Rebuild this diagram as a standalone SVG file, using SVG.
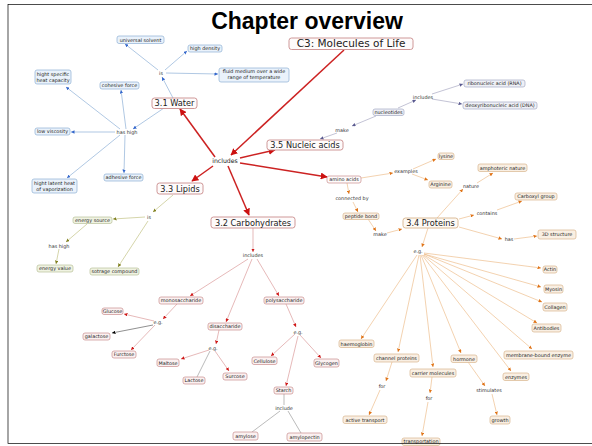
<svg xmlns="http://www.w3.org/2000/svg" width="592" height="446" viewBox="0 0 592 446">
<style>
text{font-family:"DejaVu Sans",Verdana,sans-serif;fill:#222;text-anchor:middle}
.s{font-size:4.9px}
.m{font-size:8.2px}
.lk{font-size:4.9px;fill:#333}
.title{font-family:"Liberation Sans",Arial,sans-serif;font-weight:bold;font-size:23px;fill:#000}
rect{stroke-width:0.7}
.nb rect{fill:#eaf2fb;stroke:#8eb0d4}
.np rect{fill:#eff0f6;stroke:#a4aac4}
.no rect{fill:#f0f3e2;stroke:#b8c098}
.nr rect{fill:#fbf1f1;stroke:#c98c8c}
.nm rect{fill:#fefbfb;stroke:#c98c8c;stroke-width:0.9}
.nor rect{fill:#f9efe3;stroke:#d8b48c}
.cb line{stroke:#7aa3d0;stroke-width:0.6;marker-end:url(#ab)}
.cR line{stroke:#cc2222;stroke-width:1.5;marker-end:url(#aR)}
.cp line{stroke:#9a9ab8;stroke-width:0.6;marker-end:url(#ap)}
.co line{stroke:#b8b870;stroke-width:0.6;marker-end:url(#ao)}
.cr line{stroke:#d58a8a;stroke-width:0.6;marker-end:url(#ar)}
.cg line{stroke:#777;stroke-width:0.5}
.ck line{stroke:#444;stroke-width:0.6;marker-end:url(#ak)}
.cO line{stroke:#ebb47a;stroke-width:0.6;marker-end:url(#aO)}
</style>
<defs>
<marker id="ab" viewBox="0 0 10 10" refX="10" refY="5" markerWidth="3.5" markerHeight="3.5" markerUnits="userSpaceOnUse" orient="auto"><path d="M0,0L10,5L0,10z" fill="#3366cc"/></marker>
<marker id="aR" viewBox="0 0 10 10" refX="9" refY="5" markerWidth="7" markerHeight="7" markerUnits="userSpaceOnUse" orient="auto"><path d="M0,0L10,5L0,10z" fill="#cc1111"/></marker>
<marker id="ap" viewBox="0 0 10 10" refX="10" refY="5" markerWidth="3.5" markerHeight="3.5" markerUnits="userSpaceOnUse" orient="auto"><path d="M0,0L10,5L0,10z" fill="#5a5a90"/></marker>
<marker id="ao" viewBox="0 0 10 10" refX="10" refY="5" markerWidth="3.5" markerHeight="3.5" markerUnits="userSpaceOnUse" orient="auto"><path d="M0,0L10,5L0,10z" fill="#808020"/></marker>
<marker id="ar" viewBox="0 0 10 10" refX="10" refY="5" markerWidth="3.5" markerHeight="3.5" markerUnits="userSpaceOnUse" orient="auto"><path d="M0,0L10,5L0,10z" fill="#d01818"/></marker>
<marker id="ak" viewBox="0 0 10 10" refX="10" refY="5" markerWidth="3.5" markerHeight="3.5" markerUnits="userSpaceOnUse" orient="auto"><path d="M0,0L10,5L0,10z" fill="#000"/></marker>
<marker id="aO" viewBox="0 0 10 10" refX="10" refY="5" markerWidth="3.5" markerHeight="3.5" markerUnits="userSpaceOnUse" orient="auto"><path d="M0,0L10,5L0,10z" fill="#e07418"/></marker>
</defs>
<rect x="0" y="0" width="592" height="446" fill="#fff" stroke="none"/>
<text class="title" x="307" y="29">Chapter overview</text>

<g id="connectors">
<g class="cb">
<line x1="173" y1="98" x2="162" y2="77"/>
<line x1="158" y1="70" x2="125" y2="44"/>
<line x1="165" y1="70" x2="187" y2="51"/>
<line x1="166" y1="73" x2="218" y2="74"/>
<line x1="164" y1="108" x2="133" y2="129"/>
<line x1="120" y1="129" x2="66" y2="87"/>
<line x1="126" y1="129" x2="121" y2="90"/>
<line x1="115" y1="132" x2="71" y2="132"/>
<line x1="120" y1="135" x2="67" y2="178"/>
<line x1="125" y1="135" x2="124" y2="173"/>
</g>
<g class="cR">
<line x1="344" y1="50" x2="231" y2="155"/>
<line x1="215" y1="157" x2="180" y2="109"/>
<line x1="240" y1="158" x2="275" y2="150"/>
<line x1="240" y1="163" x2="327" y2="177"/>
<line x1="213" y1="166" x2="192" y2="181"/>
<line x1="228" y1="166" x2="249" y2="215"/>
</g>
<g class="cp">
<line x1="376" y1="116" x2="352" y2="126"/>
<line x1="337" y1="133" x2="320" y2="139"/>
<line x1="398" y1="108" x2="416" y2="100"/>
<line x1="432" y1="94" x2="463" y2="84"/>
<line x1="432" y1="99" x2="462" y2="104"/>
</g>
<g class="co">
<line x1="173" y1="195" x2="153" y2="212"/>
<line x1="145" y1="217" x2="113" y2="219"/>
<line x1="87" y1="224" x2="66" y2="242"/>
<line x1="59" y1="249" x2="56" y2="264"/>
<line x1="148" y1="221" x2="118" y2="267"/>
</g>
<g class="cr">
<line x1="253" y1="228" x2="253" y2="252"/>
<line x1="248" y1="259" x2="190" y2="296"/>
<line x1="252" y1="259" x2="226" y2="322"/>
<line x1="257" y1="259" x2="279" y2="296"/>
<line x1="177" y1="304" x2="163" y2="319"/>
<line x1="154" y1="321" x2="124" y2="314"/>
<line x1="155" y1="325" x2="131" y2="350"/>
<line x1="219" y1="330" x2="216" y2="344"/>
<line x1="209" y1="350" x2="181" y2="359"/>
<line x1="215" y1="351" x2="229" y2="371"/>
<line x1="286" y1="304" x2="296" y2="327"/>
<line x1="295" y1="334" x2="271" y2="356"/>
<line x1="300" y1="335" x2="321" y2="358"/>
<line x1="298" y1="336" x2="286" y2="386"/>
</g>
<g class="ck"><line x1="153" y1="325" x2="112" y2="333"/></g>
<g class="cg">
<line x1="210" y1="351" x2="197" y2="377"/>
<line x1="284" y1="394" x2="284" y2="405"/>
<line x1="280" y1="411" x2="252" y2="432"/>
<line x1="288" y1="411" x2="301" y2="433"/>
</g>
<g class="cO">
<line x1="361" y1="178" x2="393" y2="173"/>
<line x1="413" y1="169" x2="436" y2="159"/>
<line x1="412" y1="174" x2="428" y2="180"/>
<line x1="347" y1="183" x2="349" y2="194"/>
<line x1="353" y1="202" x2="358" y2="212"/>
<line x1="368" y1="219" x2="376" y2="231"/>
<line x1="387" y1="233" x2="402" y2="229"/>
<line x1="437" y1="218" x2="463" y2="189"/>
<line x1="477" y1="183" x2="493" y2="173"/>
<line x1="459" y1="219" x2="474" y2="215"/>
<line x1="497" y1="210" x2="522" y2="201"/>
<line x1="459" y1="227" x2="502" y2="239"/>
<line x1="514" y1="239" x2="537" y2="236"/>
<line x1="428" y1="228" x2="422" y2="247"/>
<line x1="424" y1="253" x2="541" y2="268"/>
<line x1="424" y1="254" x2="541" y2="287"/>
<line x1="424" y1="254" x2="542" y2="302"/>
<line x1="424" y1="255" x2="537" y2="323"/>
<line x1="423" y1="255" x2="532" y2="349"/>
<line x1="422" y1="255" x2="511" y2="371"/>
<line x1="421" y1="255" x2="461" y2="353"/>
<line x1="420" y1="255" x2="433" y2="367"/>
<line x1="419" y1="255" x2="398" y2="352"/>
<line x1="417" y1="255" x2="361" y2="339"/>
<line x1="392" y1="362" x2="386" y2="381"/>
<line x1="380" y1="390" x2="369" y2="415"/>
<line x1="432" y1="377" x2="430" y2="393"/>
<line x1="428" y1="402" x2="422" y2="436"/>
<line x1="468" y1="362" x2="485" y2="386"/>
<line x1="492" y1="394" x2="497" y2="415"/>
</g>
</g>

<!-- main nodes -->
<g id="c3" class="nm"><rect x="289" y="38" width="124" height="11.5" rx="2.5"/><text x="351" y="47.3" style="font-size:10.5px">C3: Molecules of Life</text></g>
<g id="water" class="nm"><rect x="152" y="98" width="45" height="10.5" rx="2.5"/><text class="m" x="174.5" y="106">3.1 Water</text></g>
<g id="nucleic" class="nm"><rect x="267" y="140" width="76" height="10" rx="2.5"/><text class="m" x="305" y="148">3.5 Nucleic acids</text></g>
<g id="lipids" class="nm"><rect x="157" y="183" width="46" height="11" rx="2.5"/><text class="m" x="180" y="191.5">3.3 Lipids</text></g>
<g id="carbs" class="nm"><rect x="211" y="217" width="84" height="11" rx="2.5"/><text class="m" x="253" y="225.5">3.2 Carbohydrates</text></g>
<g id="proteins" class="nor"><rect x="403" y="218" width="55" height="10" rx="2.5" style="fill:#fdf9f4;stroke-width:0.9"/><text class="m" x="430.5" y="226">3.4 Proteins</text></g>
<g id="includes-main"><text x="225" y="163" style="font-size:6.2px">includes</text></g>

<!-- water -->
<g id="w-is"><text class="lk" x="161" y="74.7">is</text></g>
<g id="w-hashigh"><text class="lk" x="127" y="133.7">has high</text></g>
<g id="universal-solvent" class="nb"><rect x="117" y="36" width="47" height="7.5" rx="2"/><text class="s" x="140.5" y="41.5">universal solvent</text></g>
<g id="high-density" class="nb"><rect x="188" y="45" width="34" height="7" rx="2"/><text class="s" x="205" y="50.2">high density</text></g>
<g id="fluid-medium" class="nb"><rect x="219" y="68" width="70" height="14" rx="2"/><text class="s" x="254" y="72.8">fluid medium over a wide</text><text class="s" x="254" y="79">range of temperature</text></g>
<g id="specific-heat" class="nb"><rect x="35" y="70" width="36" height="14" rx="2"/><text class="s" x="53" y="75.8">hight specific</text><text class="s" x="53" y="82">heat capacity</text></g>
<g id="cohesive" class="nb"><rect x="100" y="82" width="39" height="7" rx="2"/><text class="s" x="119.5" y="87.2">cohesive force</text></g>
<g id="low-viscosity" class="nb"><rect x="35" y="128" width="35" height="7" rx="2"/><text class="s" x="52.5" y="133.2">low viscosity</text></g>
<g id="latent-heat" class="nb"><rect x="32" y="179" width="45" height="14" rx="2"/><text class="s" x="54.5" y="184.5">hight latent heat</text><text class="s" x="54.5" y="190.8">of vaporization</text></g>
<g id="adhesive" class="nb"><rect x="104" y="174" width="39" height="7" rx="2"/><text class="s" x="123.5" y="179.2">adhesive force</text></g>

<!-- nucleic -->
<g id="n-make"><text class="lk" x="342" y="131.7">make</text></g>
<g id="n-includes"><text class="lk" x="423" y="98.7">includes</text></g>
<g id="nucleotides" class="np"><rect x="373" y="109" width="31" height="6.5" rx="2"/><text class="s" x="388.5" y="113.9">nucleotides</text></g>
<g id="rna" class="np"><rect x="464" y="80" width="61" height="7" rx="2"/><text class="s" x="494.5" y="85.2">ribonucleic acid (RNA)</text></g>
<g id="dna" class="np"><rect x="463" y="102" width="74" height="7" rx="2"/><text class="s" x="500" y="107.2">deoxyribonucleic acid (DNA)</text></g>

<!-- lipids -->
<g id="l-is"><text class="lk" x="149" y="218.7">is</text></g>
<g id="l-hashigh"><text class="lk" x="59" y="247.7">has high</text></g>
<g id="energy-source" class="no"><rect x="73" y="217" width="39" height="6.5" rx="2"/><text class="s" x="92.5" y="221.9">energy source</text></g>
<g id="energy-value" class="no"><rect x="37" y="265" width="36" height="7" rx="2"/><text class="s" x="55" y="270.2">energy value</text></g>
<g id="storage" class="no"><rect x="90" y="268" width="49" height="7" rx="2"/><text class="s" x="114.5" y="273.2">sotrage compound</text></g>

<!-- carbohydrates -->
<g id="c-includes"><text class="lk" x="253" y="256.7">includes</text></g>
<g id="c-eg1"><text class="lk" x="158" y="323.7">e.g.</text></g>
<g id="c-eg2"><text class="lk" x="213" y="349.7">e.g.</text></g>
<g id="c-eg3"><text class="lk" x="298" y="333.7">e.g.</text></g>
<g id="c-include"><text class="lk" x="284" y="409.7">include</text></g>
<g id="monosaccharide" class="nr"><rect x="159" y="297" width="44" height="7" rx="2"/><text class="s" x="181" y="302.2">monosaccharide</text></g>
<g id="polysaccharide" class="nr"><rect x="264" y="297" width="40" height="7" rx="2"/><text class="s" x="284" y="302.2">polysaccharide</text></g>
<g id="disaccharide" class="nr"><rect x="208" y="323" width="34" height="7" rx="2"/><text class="s" x="225" y="328.2">disaccharide</text></g>
<g id="glucose" class="nr"><rect x="102" y="308" width="21" height="6.5" rx="2"/><text class="s" x="112.5" y="312.9">Glucose</text></g>
<g id="galactose" class="nr"><rect x="83" y="333" width="27" height="7" rx="2"/><text class="s" x="96.5" y="338.2">galactose</text></g>
<g id="furctose" class="nr"><rect x="112" y="351" width="24" height="7" rx="2"/><text class="s" x="124" y="356.2">Furctose</text></g>
<g id="maltose" class="nr"><rect x="157" y="359" width="22" height="7.5" rx="2"/><text class="s" x="168" y="364.5">Maltose</text></g>
<g id="lactose" class="nr"><rect x="183" y="377" width="22" height="7" rx="2"/><text class="s" x="194" y="382.2">Lactose</text></g>
<g id="surcose" class="nr"><rect x="223" y="373" width="24" height="7" rx="2"/><text class="s" x="235" y="378.2">Surcose</text></g>
<g id="cellulose" class="nr"><rect x="252" y="357" width="25" height="7.5" rx="2"/><text class="s" x="264.5" y="362.5">Cellulose</text></g>
<g id="glycogen" class="nr"><rect x="314" y="359" width="25" height="8" rx="2"/><text class="s" x="326.5" y="364.7">Glycogen</text></g>
<g id="starch" class="nr"><rect x="274" y="387" width="19" height="7" rx="2"/><text class="s" x="283.5" y="392.2">Starch</text></g>
<g id="amylose" class="nr"><rect x="233" y="432" width="25" height="8" rx="2"/><text class="s" x="245.5" y="437.7">amylose</text></g>
<g id="amylopectin" class="nr"><rect x="287" y="433" width="35" height="8" rx="2"/><text class="s" x="304.5" y="438.7">amylopectin</text></g>

<!-- proteins -->
<g id="amino-acids" class="nm"><rect x="327" y="176" width="34" height="7" rx="2" style="stroke-width:0.7"/><text class="s" x="344" y="181.2">amino acids</text></g>
<g id="p-examples"><text class="lk" x="406" y="172.7">examples</text></g>
<g id="p-connected"><text class="lk" x="352" y="199.7">connected by</text></g>
<g id="p-make"><text class="lk" x="380" y="235.7">make</text></g>
<g id="p-nature"><text class="lk" x="471" y="187.7">nature</text></g>
<g id="p-contains"><text class="lk" x="487" y="214.7">contains</text></g>
<g id="p-has"><text class="lk" x="509" y="240.7">has</text></g>
<g id="p-eg"><text class="lk" x="418" y="252.7">e.g.</text></g>
<g id="p-for1"><text class="lk" x="382" y="387.7">for</text></g>
<g id="p-for2"><text class="lk" x="429" y="399.7">for</text></g>
<g id="p-stimulates"><text class="lk" x="489" y="391.7">stimulates</text></g>
<g id="lysine" class="nor"><rect x="438" y="153" width="16" height="6.5" rx="2"/><text class="s" x="446" y="157.9">lysine</text></g>
<g id="arginine" class="nor"><rect x="429" y="181" width="23" height="7" rx="2"/><text class="s" x="440.5" y="186.2">Arginine</text></g>
<g id="peptide-bond" class="nor"><rect x="343" y="213" width="36" height="6.5" rx="2"/><text class="s" x="361" y="217.9">peptide bond</text></g>
<g id="amphoteric" class="nor"><rect x="478" y="164" width="49" height="7.5" rx="2"/><text class="s" x="502.5" y="169.5">amphoteric nature</text></g>
<g id="carboxyl" class="nor"><rect x="515" y="193" width="42" height="7" rx="2"/><text class="s" x="536" y="198.2">Carboxyl group</text></g>
<g id="structure3d" class="nor"><rect x="538" y="230" width="38" height="9" rx="2"/><text class="s" x="557" y="236.2">3D structure</text></g>
<g id="actin" class="nor"><rect x="543" y="266" width="14" height="7" rx="2"/><text class="s" x="550" y="271.2">Actin</text></g>
<g id="myosin" class="nor"><rect x="544" y="285" width="19" height="8" rx="2"/><text class="s" x="553.5" y="290.7">Myosin</text></g>
<g id="collagen" class="nor"><rect x="543" y="303" width="24" height="8" rx="2"/><text class="s" x="555" y="308.7">Collagen</text></g>
<g id="antibodies" class="nor"><rect x="532" y="324" width="29" height="8" rx="2"/><text class="s" x="546.5" y="329.7">Antibodies</text></g>
<g id="membrane-enzyme" class="nor"><rect x="504" y="351" width="69" height="8" rx="2"/><text class="s" x="538.5" y="356.7">membrane-bound enzyme</text></g>
<g id="enzymes" class="nor"><rect x="503" y="373" width="26" height="7.5" rx="2"/><text class="s" x="516" y="378.5">enzymes</text></g>
<g id="haemoglobin" class="nor"><rect x="339" y="340" width="35" height="7.5" rx="2"/><text class="s" x="356.5" y="345.5">haemoglobin</text></g>
<g id="channel-proteins" class="nor"><rect x="374" y="354" width="45" height="8" rx="2"/><text class="s" x="396.5" y="359.7">channel proteins</text></g>
<g id="carrier-molecules" class="nor"><rect x="410" y="369" width="46" height="8" rx="2"/><text class="s" x="433" y="374.7">carrier molecules</text></g>
<g id="hormone" class="nor"><rect x="451" y="355" width="26" height="7.5" rx="2"/><text class="s" x="464" y="360.5">hormone</text></g>
<g id="active-transport" class="nor"><rect x="343" y="416" width="44" height="7.5" rx="2"/><text class="s" x="365" y="421.5">active transport</text></g>
<g id="transportation" class="nor"><rect x="402" y="438" width="38" height="7.5" rx="2"/><text class="s" x="421" y="443.3">transportation</text></g>
<g id="growth" class="nor"><rect x="490" y="416" width="20" height="8" rx="2"/><text class="s" x="500" y="421.7">growth</text></g>

<rect x="8" y="4.5" width="600" height="439" fill="none" stroke="#000" stroke-width="3"/>
</svg>
